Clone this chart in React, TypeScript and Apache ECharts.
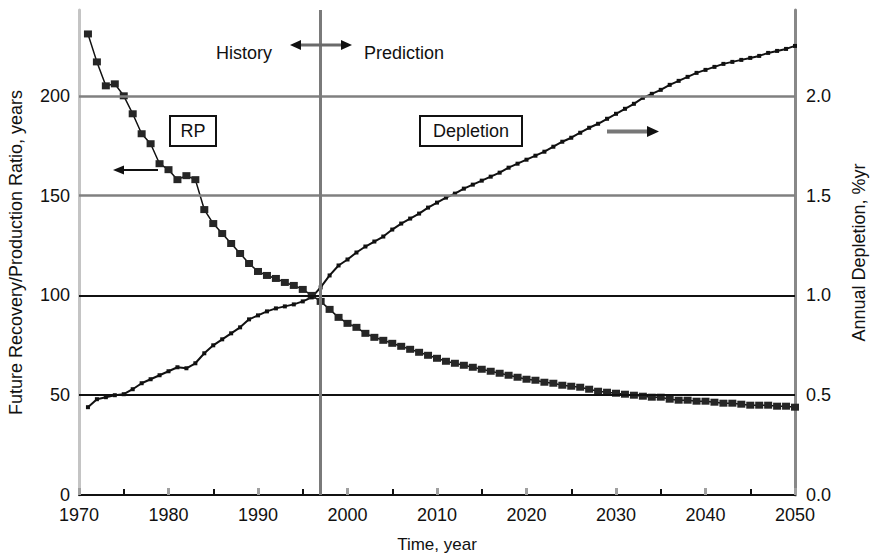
import React, { useEffect, useRef } from "react";
import * as echarts from "echarts";

// Years of the yearly points (1971 .. 2050)
const years: number[] = [];
for (let y = 1971; y <= 2050; y++) years.push(y);

// Future Recovery / Production ratio, years (left axis)
const rpValues = [
  231, 217, 205, 206, 200, 191, 181, 176, 166, 163,
  158, 160, 158, 143, 136, 131, 126, 121, 116, 112,
  110, 108.5, 106.5, 105, 103, 100, 97, 93, 89, 86,
  84, 81, 79, 77.5, 76, 74.5, 73, 71.5, 70, 68.5,
  67, 66, 65, 64, 63, 62, 61, 60, 59, 58,
  57.5, 56.5, 56, 55, 54.5, 54, 53, 52, 51.5, 51,
  50.5, 50, 49.5, 49, 49, 48, 47.5, 47.5, 47, 47,
  46.5, 46, 46, 45.5, 45, 45, 45, 44.5, 44.5, 44,
];

// Annual depletion, %/yr (right axis)
const depletionValues = [
  0.44, 0.48, 0.49, 0.5, 0.505, 0.53, 0.56, 0.58, 0.6, 0.62,
  0.64, 0.635, 0.66, 0.71, 0.75, 0.78, 0.81, 0.84, 0.88, 0.9,
  0.92, 0.935, 0.945, 0.955, 0.97, 0.99, 1.04, 1.1, 1.15, 1.18,
  1.215, 1.245, 1.27, 1.295, 1.33, 1.36, 1.385, 1.41, 1.44, 1.465,
  1.49, 1.51, 1.535, 1.555, 1.575, 1.595, 1.615, 1.64, 1.66, 1.68,
  1.7, 1.72, 1.745, 1.77, 1.79, 1.815, 1.84, 1.86, 1.885, 1.91,
  1.935, 1.96, 1.99, 2.01, 2.03, 2.055, 2.075, 2.095, 2.115, 2.13,
  2.145, 2.16, 2.17, 2.18, 2.19, 2.2, 2.215, 2.225, 2.235, 2.25,
];

const gridValues = [50, 100, 150, 200];
const gridColors = ["#111111", "#111111", "#808080", "#808080"];
const dividerYear = 1997;

const xLabelMin = 1970;
const xLabelMax = 2050;

const FONT = "'Liberation Sans', Arial, Helvetica, sans-serif";

export default function App() {
  const ref = useRef<HTMLDivElement>(null);

  useEffect(() => {
    if (!ref.current) return;
    const chart = echarts.init(ref.current, undefined, { renderer: "svg" });

    const rpData = years.map((y, i) => [y, rpValues[i]]);
    const depData = years.map((y, i) => [y, depletionValues[i]]);

    const txt = (text: string, x: number, y: number, align = "center") => ({
      type: "text",
      x,
      y,
      z: 100,
      style: {
        text,
        fill: "#111",
        fontSize: 18,
        fontFamily: FONT,
        align,
        verticalAlign: "middle",
      },
    });

    chart.setOption({
      animation: false,
      backgroundColor: "#ffffff",
      grid: {
        left: 79,
        right: 76,
        top: 10,
        bottom: 61,
        containLabel: false,
        outerBoundsMode: "none",
      },
      xAxis: [
        {
          type: "value",
          min: xLabelMin,
          max: xLabelMax,
          interval: 5,
          name: "Time, year",
          nameLocation: "middle",
          nameGap: 41,
          nameTextStyle: { fontSize: 17, fontFamily: FONT, color: "#111" },
          axisLine: { show: true, onZero: false, lineStyle: { color: "#111", width: 2 } },
          axisTick: { show: true, inside: true, length: 6, lineStyle: { color: "#111", width: 2 } },
          axisLabel: {
            fontSize: 18,
            lineHeight: 16,
            fontFamily: FONT,
            color: "#111",
            margin: 12,
            formatter: (v: number) => (v % 10 === 0 ? String(v) : ""),
          },
          splitLine: { show: false },
        },
        {
          type: "value",
          min: xLabelMin,
          max: xLabelMax,
          interval: 10,
          position: "bottom",
          z: 3,
          axisLine: { show: false, onZero: false },
          axisTick: { show: true, inside: true, length: 7, lineStyle: { color: "#a0a0a0", width: 3 } },
          axisLabel: { show: false },
          splitLine: { show: false },
        },
      ],
      yAxis: [
        {
          type: "value",
          min: 0,
          max: 243,
          interval: 50,
          position: "left",
          name: "Future Recovery/Production Ratio, years",
          nameLocation: "middle",
          nameGap: 54,
          nameTextStyle: { fontSize: 18, fontFamily: FONT, color: "#111" },
          axisLine: { show: true, lineStyle: { color: "#c4c4c4", width: 3 } },
          axisTick: { show: false },
          axisLabel: {
            fontSize: 18,
            lineHeight: 15,
            fontFamily: FONT,
            color: "#111",
            margin: 9,
            showMaxLabel: false,
          },
          splitLine: { show: false },
        },
        {
          type: "value",
          min: 0,
          max: 2.43,
          interval: 0.5,
          position: "right",
          name: "Annual Depletion, %yr",
          nameLocation: "middle",
          nameGap: 55,
          nameTextStyle: { fontSize: 18, fontFamily: FONT, color: "#111" },
          axisLine: { show: true, lineStyle: { color: "#888", width: 3 } },
          axisTick: { show: false },
          axisLabel: {
            fontSize: 18,
            lineHeight: 15,
            fontFamily: FONT,
            color: "#111",
            margin: 11,
            showMaxLabel: false,
            formatter: (v: number) => v.toFixed(1),
          },
          splitLine: { show: false },
        },
      ],
      series: [
        {
          name: "grid",
          type: "line",
          data: [],
          z: 1,
          silent: true,
          markLine: {
            silent: true,
            symbol: "none",
            label: { show: false },
            animation: false,
            data: [
              ...gridValues.map((v, i) => ({
                yAxis: v,
                lineStyle: {
                  color: gridColors[i],
                  width: i < 2 ? 1.8 : 2.5,
                  type: "solid",
                },
              })),
              { xAxis: dividerYear, lineStyle: { color: "#7a7a7a", width: 3, type: "solid" } },
            ],
          },
        },
        {
          name: "RP",
          type: "line",
          yAxisIndex: 0,
          data: rpData,
          z: 3,
          symbol: "rect",
          symbolSize: [8, 7],
          showSymbol: true,
          itemStyle: { color: "#262626" },
          lineStyle: { color: "#111", width: 1.5 },
        },
        {
          name: "Depletion",
          type: "line",
          yAxisIndex: 1,
          data: depData,
          z: 3,
          symbol: "rect",
          symbolSize: 4,
          showSymbol: true,
          itemStyle: { color: "#111" },
          lineStyle: { color: "#111", width: 2 },
        },
      ],
      graphic: [
        txt("History", 216, 53, "left"),
        txt("Prediction", 364, 53, "left"),
        // double arrow History <-> Prediction
        {
          type: "line",
          z: 100,
          shape: { x1: 298, y1: 45, x2: 344, y2: 45 },
          style: { stroke: "#6a6a6a", lineWidth: 3 },
        },
        {
          type: "polygon",
          z: 100,
          shape: { points: [[290, 45], [301, 40], [301, 50]] },
          style: { fill: "#111" },
        },
        {
          type: "polygon",
          z: 100,
          shape: { points: [[352, 45], [341, 40], [341, 50]] },
          style: { fill: "#111" },
        },
        // RP box
        {
          type: "rect",
          z: 99,
          shape: { x: 170, y: 116, width: 46, height: 30 },
          style: { fill: "#fff", stroke: "#111", lineWidth: 2 },
        },
        txt("RP", 193, 131),
        // Depletion box
        {
          type: "rect",
          z: 99,
          shape: { x: 420, y: 116, width: 102, height: 30 },
          style: { fill: "#fff", stroke: "#111", lineWidth: 2 },
        },
        txt("Depletion", 471, 131),
        // left arrow (RP -> left axis)
        {
          type: "line",
          z: 100,
          shape: { x1: 121, y1: 170, x2: 158, y2: 170 },
          style: { stroke: "#111", lineWidth: 2 },
        },
        {
          type: "polygon",
          z: 100,
          shape: { points: [[113, 170], [124, 165.5], [124, 174.5]] },
          style: { fill: "#111" },
        },
        // right arrow (Depletion -> right axis)
        {
          type: "line",
          z: 100,
          shape: { x1: 607, y1: 131.5, x2: 650, y2: 131.5 },
          style: { stroke: "#777", lineWidth: 4 },
        },
        {
          type: "polygon",
          z: 100,
          shape: { points: [[659, 131.5], [647, 126], [647, 137]] },
          style: { fill: "#111" },
        },
      ],
    });

    return () => chart.dispose();
  }, []);

  return (
    <div
      ref={ref}
      style={{ position: "fixed", left: 0, top: 0, width: 871, height: 556, background: "#fff" }}
    />
  );
}
